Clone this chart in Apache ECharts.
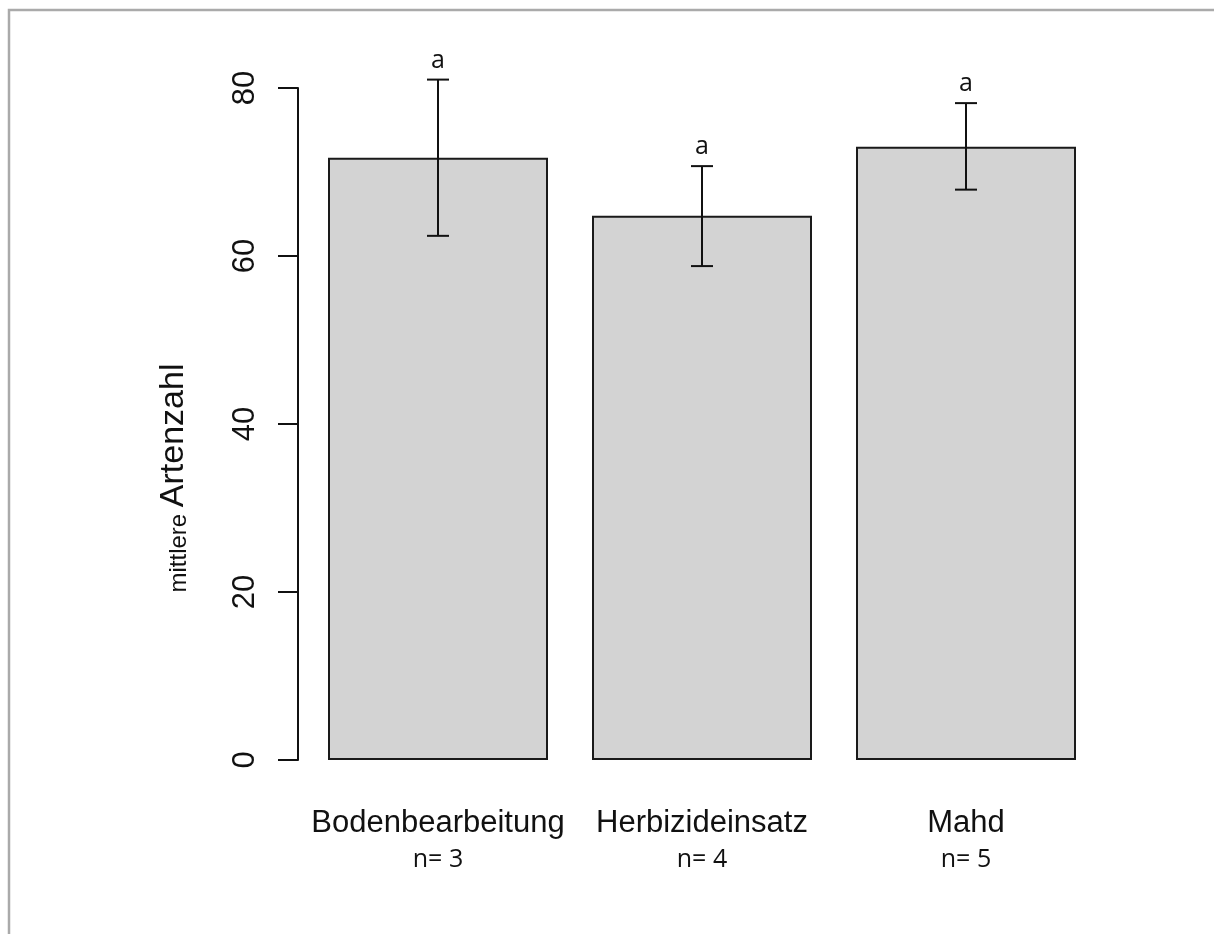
<!DOCTYPE html>
<html><head><meta charset="utf-8">
<script src="https://cdn.jsdelivr.net/npm/echarts@6/dist/echarts.min.js"></script>
<style>html,body{margin:0;padding:0;background:#fff}#c{width:1214px;height:934px}</style>
</head><body><div id="c"></div>
<script>
const categories = ['Bodenbearbeitung', 'Herbizideinsatz', 'Mahd'];
const sampleSizes = ['n= 3', 'n= 4', 'n= 5'];
const means = [71.7, 64.8, 73.0];
const errLow = [62.4, 58.8, 67.9];
const errHigh = [81.0, 70.7, 78.2];
const groupLetters = ['a', 'a', 'a'];
const yTicks = [0, 20, 40, 60, 80];

const chart = echarts.init(document.getElementById('c'), null, {renderer: 'canvas'});
const errData = categories.map((c, i) => [i, errLow[i], errHigh[i]]);

chart.setOption({
  animation: false,
  backgroundColor: '#fff',
  grid: {left: 306, right: 116, top: 88, bottom: 174},
  xAxis: {
    type: 'category',
    data: categories.map((c, i) => c + '\n' + sampleSizes[i]),
    axisLine: {show: false},
    axisTick: {show: false},
    axisLabel: {
      margin: 44,
      interval: 0,
      formatter: function (v) {
        const p = v.split('\n');
        return '{c|' + p[0] + '}\n{n|' + p[1] + '}';
      },
      rich: {
        c: {fontSize: 31, fontFamily: 'Liberation Sans', color: '#111', lineHeight: 38},
        n: {fontSize: 25, fontFamily: 'Open Sans', color: '#111', lineHeight: 36}
      }
    }
  },
  yAxis: {
    type: 'value',
    min: yTicks[0],
    max: yTicks[yTicks.length - 1],
    interval: 20,
    offset: 8,
    axisLine: {show: true, lineStyle: {color: '#111', width: 2}},
    axisTick: {show: true, length: 20, lineStyle: {color: '#111', width: 2}},
    splitLine: {show: false},
    axisLabel: {rotate: 90, margin: 37, fontSize: 31, fontFamily: 'Liberation Sans', color: '#111'}
  },
  graphic: [
    {type: 'rect', shape: {x: 9, y: 10, width: 1400, height: 1200}, style: {fill: 'none', stroke: '#aaaaaa', lineWidth: 2.5}, silent: true},
    {type: 'text', x: 174, y: 478, rotation: Math.PI / 2,
     style: {text: '{s|mittlere }{b|Artenzahl}', align: 'center', verticalAlign: 'middle',
       rich: {s: {fontSize: 24, fontFamily: 'Liberation Sans', fill: '#111', verticalAlign: 'bottom'}, b: {fontSize: 34, fontFamily: 'Liberation Sans', fill: '#111', verticalAlign: 'bottom'}}}}
  ],
  series: [
    {
      type: 'bar',
      data: means,
      barWidth: 220,
      itemStyle: {color: '#d3d3d3', borderColor: '#1a1a1a', borderWidth: 2}
    },
    {
      type: 'custom',
      data: errData,
      clip: false,
      z: 10,
      renderItem: function (params, api) {
        const i = api.value(0);
        const lo = api.coord([i, api.value(1)]);
        const hi = api.coord([i, api.value(2)]);
        const cap = 11;
        const st = {stroke: '#111', lineWidth: 2};
        return {type: 'group', children: [
          {type: 'line', shape: {x1: hi[0], y1: hi[1], x2: lo[0], y2: lo[1]}, style: st},
          {type: 'line', shape: {x1: hi[0] - cap, y1: hi[1], x2: hi[0] + cap, y2: hi[1]}, style: st},
          {type: 'line', shape: {x1: lo[0] - cap, y1: lo[1], x2: lo[0] + cap, y2: lo[1]}, style: st},
          {type: 'text', style: {text: groupLetters[params.dataIndex], x: hi[0], y: hi[1] - 19, align: 'center', verticalAlign: 'middle', fontSize: 25, fontFamily: 'Open Sans', fill: '#111'}}
        ]};
      }
    }
  ]
});
</script></body></html>
